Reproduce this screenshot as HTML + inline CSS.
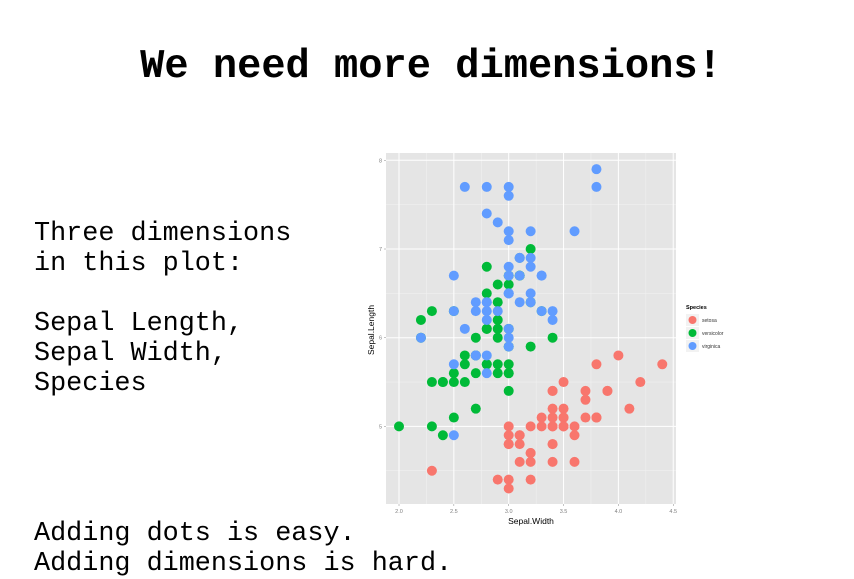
<!DOCTYPE html>
<html><head><meta charset="utf-8"><style>
body{margin:0;width:854px;height:577px;background:#fff;overflow:hidden;position:relative;font-family:"Liberation Mono",monospace}
.t{position:absolute;white-space:pre;color:#000}
</style></head><body>
<div class="t" style="left:0;width:862px;text-align:center;top:44px;font-size:40.4px;font-weight:bold;line-height:46px">We need more dimensions!</div>
<div class="t" style="left:34px;top:219px;font-size:26.8px;line-height:30px">Three dimensions
in this plot:

Sepal Length,
Sepal Width,
Species</div>
<div class="t" style="left:34px;top:519px;font-size:26.8px;line-height:30px">Adding dots is easy.
Adding dimensions is hard.</div>
<svg id="chart" width="854" height="577" style="position:absolute;left:0;top:0" font-family="Liberation Sans, sans-serif"></svg>
<script>
const setosaSL=[5.1,4.9,4.7,4.6,5.0,5.4,4.6,5.0,4.4,4.9,5.4,4.8,4.8,4.3,5.8,5.7,5.4,5.1,5.7,5.1,5.4,5.1,4.6,5.1,4.8,5.0,5.0,5.2,5.2,4.7,4.8,5.4,5.2,5.5,4.9,5.0,5.5,4.9,4.4,5.1,5.0,4.5,4.4,5.0,5.1,4.8,5.1,4.6,5.3,5.0];
const setosaSW=[3.5,3.0,3.2,3.1,3.6,3.9,3.4,3.4,2.9,3.1,3.7,3.4,3.0,3.0,4.0,4.4,3.9,3.5,3.8,3.8,3.4,3.7,3.6,3.3,3.4,3.0,3.4,3.5,3.4,3.2,3.1,3.4,4.1,4.2,3.1,3.2,3.5,3.6,3.0,3.4,3.5,2.3,3.2,3.5,3.8,3.0,3.8,3.2,3.7,3.3];
const versicolorSL=[7.0,6.4,6.9,5.5,6.5,5.7,6.3,4.9,6.6,5.2,5.0,5.9,6.0,6.1,5.6,6.7,5.6,5.8,6.2,5.6,5.9,6.1,6.3,6.1,6.4,6.6,6.8,6.7,6.0,5.7,5.5,5.5,5.8,6.0,5.4,6.0,6.7,6.3,5.6,5.5,5.5,6.1,5.8,5.0,5.6,5.7,5.7,6.2,5.1,5.7];
const versicolorSW=[3.2,3.2,3.1,2.3,2.8,2.8,3.3,2.4,2.9,2.7,2.0,3.0,2.2,2.9,2.9,3.1,3.0,2.7,2.2,2.5,3.2,2.8,2.5,2.8,2.9,3.0,2.8,3.0,2.9,2.6,2.4,2.4,2.7,2.7,3.0,3.4,3.1,2.3,3.0,2.5,2.6,3.0,2.6,2.3,2.7,3.0,2.9,2.9,2.5,2.8];
const virginicaSL=[6.3,5.8,7.1,6.3,6.5,7.6,4.9,7.3,6.7,7.2,6.5,6.4,6.8,5.7,5.8,6.4,6.5,7.7,7.7,6.0,6.9,5.6,7.7,6.3,6.7,7.2,6.2,6.1,6.4,7.2,7.4,7.9,6.4,6.3,6.1,7.7,6.3,6.4,6.0,6.9,6.7,6.9,5.8,6.8,6.7,6.7,6.3,6.5,6.2,5.9];
const virginicaSW=[3.3,2.7,3.0,2.9,3.0,3.0,2.5,2.9,2.5,3.6,3.2,2.7,3.0,2.5,2.8,3.2,3.0,3.8,2.6,2.2,3.2,2.8,2.8,2.7,3.3,3.2,2.8,3.0,2.8,3.0,2.8,3.8,2.8,2.8,2.6,3.0,3.4,3.1,3.0,3.1,3.1,3.1,2.7,3.2,3.3,3.0,2.5,3.0,3.4,3.0];
const speciesNames=["setosa","versicolor","virginica"];
const xTicks=[2.0,2.5,3.0,3.5,4.0,4.5];
const xTickLabels=["2.0","2.5","3.0","3.5","4.0","4.5"];
const yTicks=[5,6,7,8];
const yTickLabels=["5","6","7","8"];
const NS="http://www.w3.org/2000/svg";
const svg=document.getElementById('chart');
const X=v=>399+(v-2.0)*109.7;
const Y=v=>160.3-(v-8)*88.7;
const P={l:386,r:676,t:153,b:504};
function el(t,a,p){const e=document.createElementNS(NS,t);for(const k in a)e.setAttribute(k,a[k]);(p||svg).appendChild(e);return e;}
const bg=el('rect',{x:P.l,y:P.t,width:P.r-P.l,height:P.b-P.t,fill:'#e5e5e5'});


for(let i=0;i<xTicks.length-1;i++){const m=(xTicks[i]+xTicks[i+1])/2;el('line',{x1:X(m),x2:X(m),y1:P.t,y2:P.b,stroke:'#f2f2f2','stroke-width':0.5});}
for(let i=0;i<yTicks.length-1;i++){const m=(yTicks[i]+yTicks[i+1])/2;el('line',{x1:P.l,x2:P.r,y1:Y(m),y2:Y(m),stroke:'#f2f2f2','stroke-width':0.5});}
el('line',{x1:P.l,x2:P.r,y1:Y(4.5),y2:Y(4.5),stroke:'#f2f2f2','stroke-width':0.5});
xTicks.forEach((v,i)=>{
 el('line',{x1:X(v),x2:X(v),y1:P.t,y2:P.b,stroke:'#fff','stroke-width':1});
 el('line',{x1:X(v),x2:X(v),y1:P.b,y2:P.b+2,stroke:'#888','stroke-width':0.5});
 const t=el('text',{x:X(v),y:P.b+9,'font-size':5.5,fill:'#7f7f7f','text-anchor':'middle'});t.textContent=xTickLabels[i];
 
 
});
yTicks.forEach((v,i)=>{
 el('line',{x1:P.l,x2:P.r,y1:Y(v),y2:Y(v),stroke:'#fff','stroke-width':1});
 el('line',{x1:P.l-2,x2:P.l,y1:Y(v),y2:Y(v),stroke:'#888','stroke-width':0.5});
 const t=el('text',{x:P.l-4,y:Y(v)+2,'font-size':5.5,fill:'#7f7f7f','text-anchor':'end'});t.textContent=yTickLabels[i];
 
 
});
const xt=el('text',{x:531,y:524,'font-size':8.5,'text-anchor':'middle',fill:'#000'});xt.textContent='Sepal.Width';


const yt=el('text',{x:0,y:0,'font-size':8.5,'text-anchor':'middle',fill:'#000',transform:'translate(374,330) rotate(-90)'});yt.textContent='Sepal.Length';


const colors=['#f8766d','#00ba38','#619cff'];
const series=[[setosaSW,setosaSL],[versicolorSW,versicolorSL],[virginicaSW,virginicaSL]];
series.forEach((s,k)=>{
 s[0].forEach((w,i)=>{
  const c=el('circle',{cx:X(w),cy:Y(s[1][i]),r:5,fill:colors[k]});
  
  
 });
});
const lt=el('text',{x:686,y:309,'font-size':5.5,'font-weight':'bold',fill:'#000'});lt.textContent='Species';


speciesNames.forEach((n,k)=>{
 const cy=320+k*13;
 el('rect',{x:686,y:cy-6,width:13,height:12,fill:'#f2f2f2'});
 const c=el('circle',{cx:692.5,cy:cy,r:4,fill:colors[k]});
 
 
 const t=el('text',{x:702,y:cy+2,'font-size':5,fill:'#333'});t.textContent=n;
 
 
});
</script>
</body></html>
